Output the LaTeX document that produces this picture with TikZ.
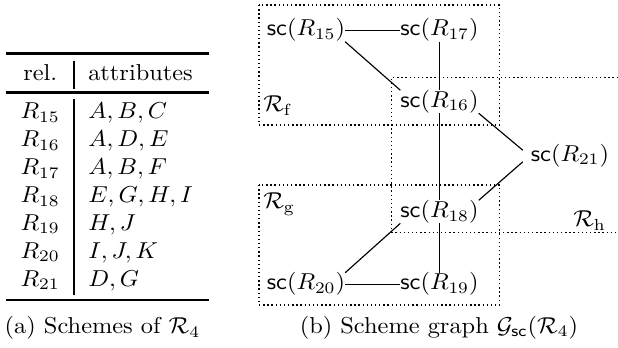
\documentclass[tikz,border=0pt]{standalone}
\usepackage{graphicx}
\usetikzlibrary{calc}
\newcommand{\sx}[1]{\scalebox{1.06}[1]{#1}}
\begin{document}
\begin{tikzpicture}[x=0.4348pt,y=-0.4348pt,
  gnode/.style={inner sep=0pt,outer sep=0pt,anchor=base},
  cell/.style={inner sep=0pt,outer sep=0pt,anchor=base},
  lcell/.style={inner sep=0pt,outer sep=0pt,anchor=base west},
  region/.style={line width=0.6pt,dash pattern=on 0.6pt off 1.2pt},
  tabrule/.style={line width=1.15pt},
  edge/.style={line width=0.5pt}]
\useasboundingbox (0,0) rectangle (618,348);

% ---------------- table ----------------
\draw[tabrule] (5.5,53.3) -- (209,53.3);
\draw[tabrule] (5.5,92.3) -- (209,92.3);
\draw[tabrule] (5.5,300) -- (209,300);
\draw[tabrule] (74,60.7) -- (74,88.6);
\draw[tabrule] (74,99.4) -- (74,295);

\node[cell] (hrel) at (40.3,80.2) {\sx{rel.}};
\node[lcell] (hattr) at (88.3,80.2) {\sx{attributes}};

\node[cell] (t15) at (40.3,118.9) {\sx{$R_{15}$}};
\node[cell] (t16) at (40.3,146.8) {\sx{$R_{16}$}};
\node[cell] (t17) at (40.3,174.7) {\sx{$R_{17}$}};
\node[cell] (t18) at (40.3,202.6) {\sx{$R_{18}$}};
\node[cell] (t19) at (40.3,230.5) {\sx{$R_{19}$}};
\node[cell] (t20) at (40.3,258.4) {\sx{$R_{20}$}};
\node[cell] (t21) at (40.3,286.3) {\sx{$R_{21}$}};

\node[lcell] (a15) at (88.3,118.9) {\sx{$A, B, C$}};
\node[lcell] (a16) at (88.3,146.8) {\sx{$A, D, E$}};
\node[lcell] (a17) at (88.3,174.7) {\sx{$A, B, F$}};
\node[lcell] (a18) at (88.3,202.6) {\sx{$E, G, H, I$}};
\node[lcell] (a19) at (88.3,230.5) {\sx{$H, J$}};
\node[lcell] (a20) at (88.3,258.4) {\sx{$I, J, K$}};
\node[lcell] (a21) at (88.3,286.3) {\sx{$D, G$}};

\node[cell] (capa) at (102.5,334) {\sx{(a) Schemes of $\mathcal{R}_4$}};

% ---------------- regions ----------------
\draw[region] (259,5) rectangle (499.3,125);
\draw[region] (259,185) rectangle (499.3,305);
\draw[region] (618,77.3) -- (391.7,77.3) -- (391.7,232.3) -- (618,232.3);

\node[lcell] (lf) at (263.3,112) {\sx{$\mathcal{R}_{\mathrm{f}}$}};
\node[lcell] (lg) at (263.3,209) {\sx{$\mathcal{R}_{\mathrm{g}}$}};
\node[lcell] (lh) at (573.3,227) {\sx{$\mathcal{R}_{\mathrm{h}}$}};

% ---------------- graph ----------------
\node[gnode] (n15) at (306,36) {\sx{$\mathsf{sc}(R_{15})$}};
\node[gnode] (n17) at (439.5,36) {\sx{$\mathsf{sc}(R_{17})$}};
\node[gnode] (n16) at (439.5,107.5) {\sx{$\mathsf{sc}(R_{16})$}};
\node[gnode] (n21) at (570,161.5) {\sx{$\mathsf{sc}(R_{21})$}};
\node[gnode] (n18) at (439.5,217.6) {\sx{$\mathsf{sc}(R_{18})$}};
\node[gnode] (n20) at (306,290) {\sx{$\mathsf{sc}(R_{20})$}};
\node[gnode] (n19) at (439.5,290) {\sx{$\mathsf{sc}(R_{19})$}};

\draw[edge] (n15.east) -- (n17.west);
\draw[edge] (n15.south east) -- (n16.north west);
\draw[edge] (n17.south) -- (n16.north);
\draw[edge] (n16.south) -- (n18.north);
\draw[edge] (n16.south east) -- ($(n21.west)+(-8,-5.5)$);
\draw[edge] ($(n21.west)+(-8,6)$) -- (n18.north east);
\draw[edge] (n18.south west) -- (n20.north east);
\draw[edge] (n18.south) -- (n19.north);
\draw[edge] (n20.east) -- (n19.west);

\node[cell] (capb) at (439,333.5) {\sx{(b) Scheme graph $\mathcal{G}_{\mathsf{sc}}(\mathcal{R}_4)$}};
\end{tikzpicture}
\end{document}
